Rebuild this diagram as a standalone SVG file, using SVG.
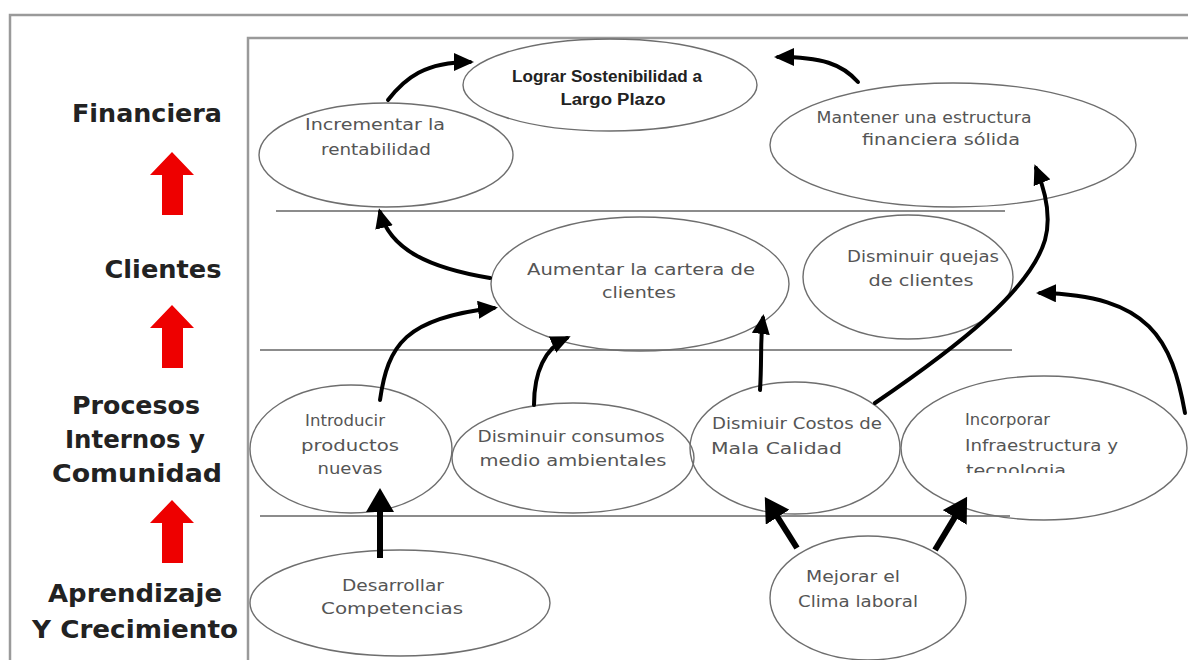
<svg xmlns="http://www.w3.org/2000/svg" width="1188" height="660" viewBox="0 0 1188 660">
<style>
.frame{fill:none;stroke:#9a9a9a;stroke-width:2.5}
.sep{stroke:#8c8c8c;stroke-width:2}
.node ellipse{fill:none;stroke:#6e6e6e;stroke-width:1.4}
.t{font-family:"DejaVu Sans","Liberation Sans",sans-serif;font-size:16px;fill:#555;text-anchor:middle}
.tl{text-anchor:start}
.b{font-family:"Liberation Sans",Arial,sans-serif;font-size:16px;font-weight:bold;fill:#222}
.lab{font-family:"DejaVu Sans","Liberation Sans",sans-serif;font-weight:bold;font-size:25px;fill:#222;text-anchor:middle}
.red{fill:#ee0000}
.c{fill:none;stroke:#000;stroke-width:4;stroke-linecap:round}
.cb{fill:none;stroke:#000;stroke-width:6}
</style>
<defs>
<marker id="ah" markerUnits="userSpaceOnUse" markerWidth="20" markerHeight="18" refX="16" refY="9" orient="auto">
<path d="M0,0 L20,9 L0,18 z" fill="#000"/>
</marker>
<marker id="ahb" markerUnits="userSpaceOnUse" markerWidth="24" markerHeight="28" refX="18" refY="14" orient="auto">
<path d="M0,0 L24,14 L0,28 z" fill="#000"/>
</marker>
<clipPath id="clipInc"><rect x="900" y="370" width="288" height="103"/></clipPath>
</defs>
<rect width="1188" height="660" fill="#fff"/>
<path class="frame" d="M10,660 V15 H1188"/>
<path class="frame" d="M248,660 V38 H1188"/>
<line class="sep" x1="276" y1="211" x2="1005" y2="211"/>
<line class="sep" x1="260" y1="350" x2="1012" y2="350"/>
<line class="sep" x1="260" y1="516" x2="1010" y2="516"/>

<g id="labels">
<text class="lab" x="147" y="122" textLength="150" lengthAdjust="spacingAndGlyphs">Financiera</text>
<text class="lab" x="163" y="278" textLength="117" lengthAdjust="spacingAndGlyphs">Clientes</text>
<text class="lab" x="136" y="414" textLength="128" lengthAdjust="spacingAndGlyphs">Procesos</text>
<text class="lab" x="135" y="448" textLength="140" lengthAdjust="spacingAndGlyphs">Internos y</text>
<text class="lab" x="137" y="482" textLength="170" lengthAdjust="spacingAndGlyphs">Comunidad</text>
<text class="lab" x="135" y="602" textLength="174" lengthAdjust="spacingAndGlyphs">Aprendizaje</text>
<text class="lab" x="135" y="638" textLength="206" lengthAdjust="spacingAndGlyphs">Y Crecimiento</text>
<path class="red" d="M172,152 L194,175 L183,175 L183,215 L162,215 L162,175 L150,175 z"/>
<path class="red" d="M172,305 L194,328 L183,328 L183,368 L162,368 L162,328 L150,328 z"/>
<path class="red" d="M172,500 L194,523 L183,523 L183,563 L162,563 L162,523 L150,523 z"/>
</g>

<g id="n-lograr" class="node"><ellipse cx="610" cy="85" rx="147" ry="46"/>
<text class="t b" x="607" y="82" textLength="190" lengthAdjust="spacingAndGlyphs">Lograr Sostenibilidad a</text><text class="t b" x="613" y="105" textLength="105" lengthAdjust="spacingAndGlyphs">Largo Plazo</text></g>
<g id="n-incrementar" class="node"><ellipse cx="386" cy="155" rx="127" ry="52"/>
<text class="t" x="375" y="130" textLength="140" lengthAdjust="spacingAndGlyphs">Incrementar la</text><text class="t" x="376" y="155" textLength="110" lengthAdjust="spacingAndGlyphs">rentabilidad</text></g>
<g id="n-mantener" class="node"><ellipse cx="953" cy="145" rx="183" ry="62"/>
<text class="t" x="924" y="123" textLength="215" lengthAdjust="spacingAndGlyphs">Mantener una estructura</text><text class="t" x="941" y="145" textLength="158" lengthAdjust="spacingAndGlyphs">financiera sólida</text></g>
<g id="n-aumentar" class="node"><ellipse cx="640" cy="284" rx="149" ry="67"/>
<text class="t" x="641" y="275" textLength="228" lengthAdjust="spacingAndGlyphs">Aumentar la cartera de</text><text class="t" x="639" y="298" textLength="74" lengthAdjust="spacingAndGlyphs">clientes</text></g>
<g id="n-quejas" class="node"><ellipse cx="908" cy="277" rx="105" ry="62"/>
<text class="t" x="923" y="262" textLength="152" lengthAdjust="spacingAndGlyphs">Disminuir quejas</text><text class="t" x="921" y="286" textLength="105" lengthAdjust="spacingAndGlyphs">de clientes</text></g>
<g id="n-introducir" class="node"><ellipse cx="351" cy="449" rx="101" ry="64"/>
<text class="t" x="345" y="426" textLength="80" lengthAdjust="spacingAndGlyphs">Introducir</text><text class="t" x="350" y="451" textLength="98" lengthAdjust="spacingAndGlyphs">productos</text><text class="t" x="350" y="474" textLength="65" lengthAdjust="spacingAndGlyphs">nuevas</text></g>
<g id="n-consumos" class="node"><ellipse cx="573" cy="458" rx="121" ry="55"/>
<text class="t" x="571" y="442" textLength="187" lengthAdjust="spacingAndGlyphs">Disminuir consumos</text><text class="t" x="573" y="466" textLength="187" lengthAdjust="spacingAndGlyphs">medio ambientales</text></g>
<g id="n-incorporar" class="node"><ellipse cx="1044" cy="448" rx="143" ry="72"/>
<text class="t tl" x="965" y="425" textLength="85" lengthAdjust="spacingAndGlyphs">Incorporar</text><text class="t tl" x="965" y="451" textLength="153" lengthAdjust="spacingAndGlyphs">Infraestructura y</text>
<text class="t tl" x="966" y="476" textLength="100" lengthAdjust="spacingAndGlyphs" clip-path="url(#clipInc)">tecnologia</text></g>
<g id="n-costos" class="node"><ellipse cx="795" cy="448" rx="105" ry="66"/>
<text class="t tl" x="712" y="429" textLength="170" lengthAdjust="spacingAndGlyphs">Dismiuir Costos de</text><text class="t tl" x="711" y="454" textLength="131" lengthAdjust="spacingAndGlyphs">Mala Calidad</text></g>
<g id="n-desarrollar" class="node"><ellipse cx="400" cy="603" rx="150" ry="53"/>
<text class="t" x="393" y="591" textLength="102" lengthAdjust="spacingAndGlyphs">Desarrollar</text><text class="t" x="392" y="614" textLength="142" lengthAdjust="spacingAndGlyphs">Competencias</text></g>
<g id="n-clima" class="node"><ellipse cx="868" cy="598" rx="98" ry="62"/>
<text class="t" x="853" y="582" textLength="94" lengthAdjust="spacingAndGlyphs">Mejorar el</text><text class="t" x="858" y="607" textLength="120" lengthAdjust="spacingAndGlyphs">Clima laboral</text></g>

<g id="connectors">
<path class="c" marker-end="url(#ah)" d="M388,100 C405,78 425,62 470,62"/>
<path class="c" marker-end="url(#ah)" d="M858,82 C842,64 822,57 778,57"/>
<path class="c" marker-end="url(#ah)" d="M490,278 C430,268 390,250 380,212"/>
<path class="c" marker-end="url(#ah)" d="M380,400 C388,345 405,318 494,308"/>
<path class="c" marker-end="url(#ah)" d="M534,405 C534,372 545,348 567,338"/>
<path class="c" marker-end="url(#ah)" d="M760,390 C762,360 760,340 763,318"/>
<path class="c" marker-end="url(#ah)" d="M875,403 C960,345 1030,290 1045,240 C1052,215 1045,190 1036,168"/>
<path class="c" marker-end="url(#ah)" d="M1185,413 C1172,340 1150,295 1040,293"/>
<path class="cb" marker-end="url(#ahb)" d="M380,558 L380,494"/>
<path class="cb" marker-end="url(#ahb)" d="M797,548 L768,502"/>
<path class="cb" marker-end="url(#ahb)" d="M935,550 L964,502"/>
</g>
</svg>
